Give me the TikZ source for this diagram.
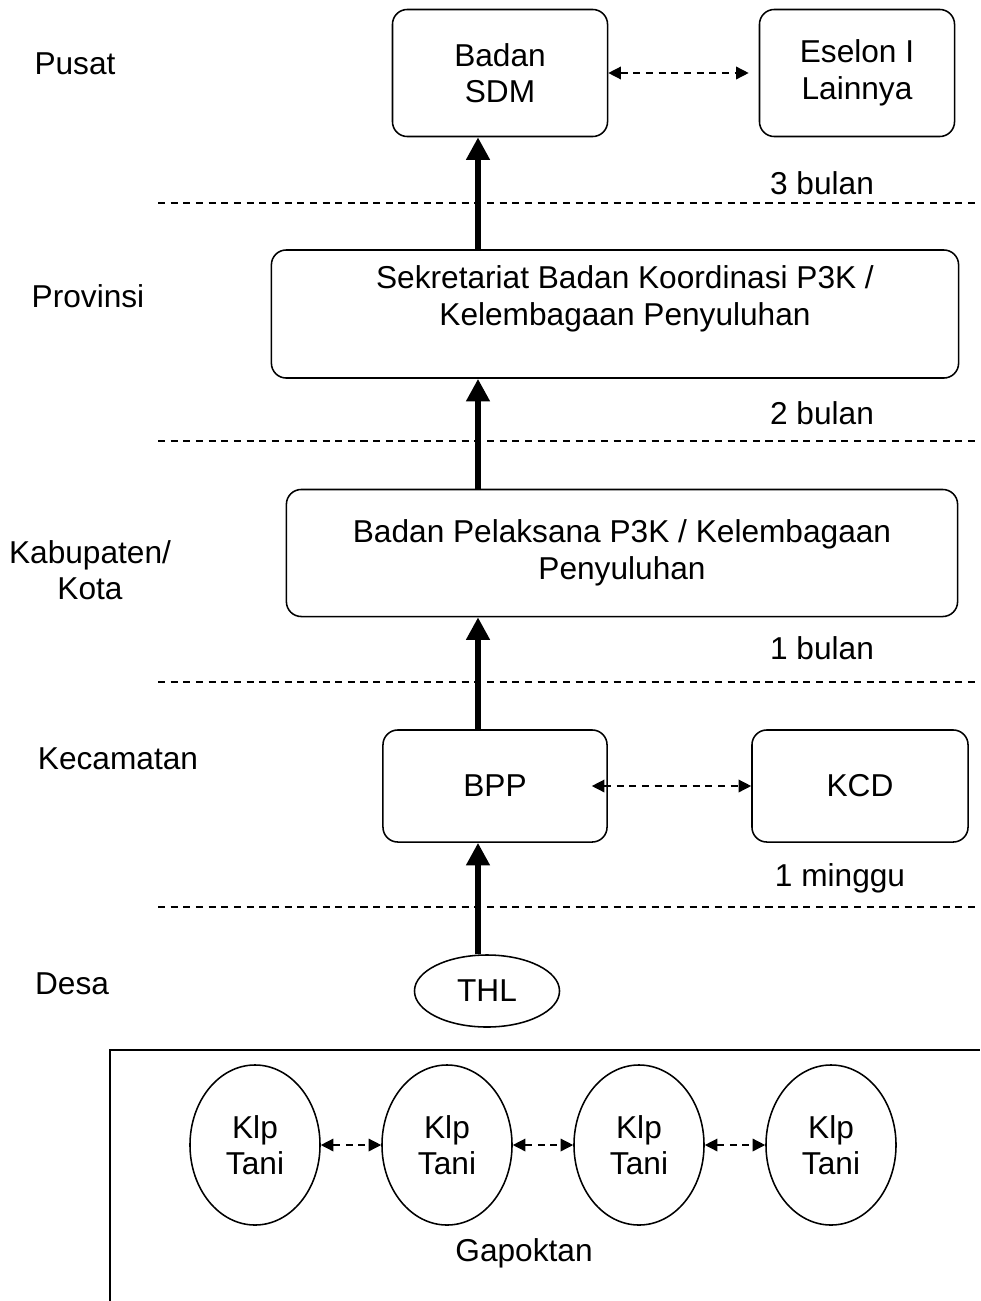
\documentclass[tikz,border=0pt]{standalone}
\usepackage{fontspec}
\setmainfont{Liberation Sans}
\usetikzlibrary{shapes.geometric, arrows.meta}
\tikzstyle{box} = [rectangle, rounded corners=0.37cm, draw, line width=1.1pt, inner sep=0pt, text centered, align=center]
\tikzstyle{oval} = [ellipse, draw, line width=1.1pt, inner sep=0pt, align=center]
\tikzstyle{level} = [align=center]
\tikzstyle{divider} = [line width=1pt, dash pattern=on 5pt off 4pt]
\tikzstyle{uparrow} = [line width=4.3pt, -{Triangle[width=16pt,length=16pt]}]
\tikzstyle{link} = [line width=1pt, dash pattern=on 5pt off 4pt, {Triangle[width=9pt,length=9pt]}-{Triangle[width=9pt,length=9pt]}]

\begin{document}
\begin{tikzpicture}[x=0.025cm, y=-0.025cm, font=\fontsize{22.5}{26}\selectfont]
            \useasboundingbox (0,0) rectangle (980,1301);
            \coordinate (spine) at (478,0);

            % tingkat
            \node [level] at (75,64) (pusat) {Pusat};
            \node [level] at (88,296) (prov) {Provinsi};
            \node [level] at (90,570) (kab) {Kabupaten/\\Kota};
            \node [level] at (118,759) (kec) {Kecamatan};
            \node [level] at (72,984) (desa) {Desa};

            % batas waktu
            \node at (822,183) (t3) {3 bulan};
            \node at (822,413) (t2) {2 bulan};
            \node at (822,648) (t1) {1 bulan};
            \node at (840,878) (t0) {1 minggu};
            \foreach \y in {203,441,682,907}
                \draw [divider] (158,\y) -- (980,\y);

            % lembaga
            \node [box, minimum width=5.375cm, minimum height=3.175cm] at (500,73) (sdm) {Badan\\SDM};
            \node [box, minimum width=4.875cm, minimum height=3.175cm] at (857,73) (eselon) {Eselon I\\Lainnya};
            \node [box, minimum width=17.175cm, minimum height=3.2cm] at (615,314) (sekre) {};
            \node [align=center] at (625,299) (sekretext) {Sekretariat Badan Koordinasi P3K /\\Kelembagaan Penyuluhan};
            \node [box, minimum width=16.775cm, minimum height=3.175cm] at (622,553) (pelaksana) {Badan Pelaksana P3K / Kelembagaan\\Penyuluhan};
            \node [box, minimum width=5.6cm, minimum height=2.8cm] at (495,786) (bpp) {BPP};
            \node [box, minimum width=5.4cm, minimum height=2.8cm] at (860,786) (kcd) {KCD};
            \node [oval, minimum width=3.625cm, minimum height=1.8cm] at (487,991) (thl) {THL};

            \draw [uparrow] (thl.north -| spine) -- (bpp.south -| spine);
            \draw [uparrow] (bpp.north -| spine) -- (pelaksana.south -| spine);
            \draw [uparrow] (pelaksana.north -| spine) -- (sekre.south -| spine);
            \draw [uparrow] (sekre.north -| spine) -- (sdm.south -| spine);
            \draw [link] (sdm) -- ([xshift=-0.25cm]eselon.west);
            \draw [link] ([xshift=-0.4cm]bpp.east) -- (kcd);

            % gapoktan
            \draw [line width=1.1pt] (110,1301) -- (110,1050) -- (980,1050);
            \foreach \x/\n in {255/1,447/2,639/3,831/4}
                \node [oval, minimum width=3.25cm, minimum height=4cm] at (\x,1145) (klp\n) {Klp\\Tani};
            \foreach \a/\b in {1/2,2/3,3/4}
                \draw [link] (klp\a) -- (klp\b);
            \node at (524,1253) (gapoktan) {Gapoktan};
            \end{tikzpicture}
\end{document}
